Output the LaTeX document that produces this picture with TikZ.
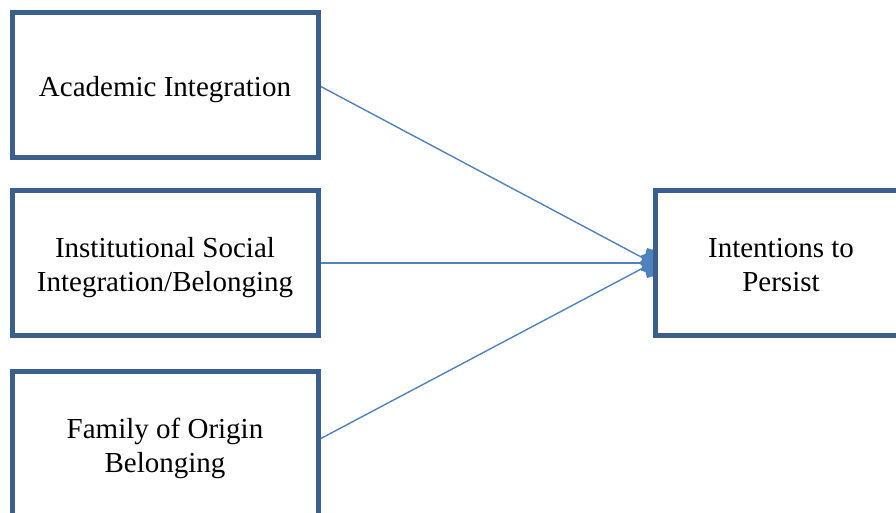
\documentclass[tikz,border=0pt]{standalone}
\usepackage{fontspec}
\setmainfont{Liberation Serif}
\usetikzlibrary{backgrounds}
\definecolor{boxblue}{HTML}{3A5F8D}
\definecolor{lineblue}{HTML}{4F81BD}
\begin{document}
\begin{tikzpicture}[x=1pt,y=-1pt,
  box/.style={draw=boxblue,fill=white,line width=5pt,minimum width=306pt,minimum height=145pt,inner sep=0pt,align=center},
  lbl/.style={font=\fontsize{29}{34}\selectfont,align=center,inner sep=0pt},
  conn/.style={draw=lineblue,line width=1.4pt},
  head/.style={fill=lineblue}]
\useasboundingbox (0,0) rectangle (896,512);
\node[box] (ai) at (165,84.5) {};
\node[lbl] (ait) at (165,90) {Academic Integration};
\node[box] (isi) at (165,263) {};
\node[lbl] (isit) at (165,268) {Institutional Social\\Integration/Belonging};
\node[box] (fob) at (165,444) {};
\node[lbl] (fobt) at (165,448) {Family of Origin\\Belonging};
\node[box] (ip) at (808,263) {};
\node[lbl] (ipt) at (781,265) {Intentions to\\Persist};
\coordinate (tip) at (ip.west);
\coordinate (hc) at (655,263);
\begin{pgfonlayer}{background}
\draw[conn] (318,85) -- (tip);
\draw[conn] (isi.east) -- (tip);
\draw[conn] (318,440) -- (tip);
\fill[head,shift={(hc)},rotate=27.84] (-16,0) -- (0,-17) -- (16,0) -- (0,17) -- cycle;
\fill[head,shift={(hc)}] (-16,0) -- (0,-16) -- (16,0) -- (0,16) -- cycle;
\fill[head,shift={(hc)},rotate=-27.7] (-16,0) -- (0,-17) -- (16,0) -- (0,17) -- cycle;
\end{pgfonlayer}
\end{tikzpicture}
\end{document}
